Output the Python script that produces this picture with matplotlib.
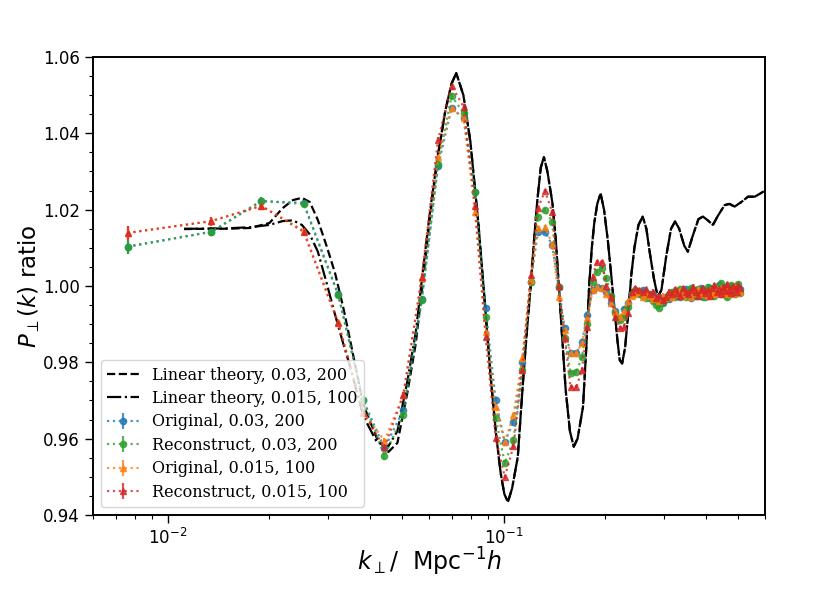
import matplotlib
matplotlib.use("Agg")
import matplotlib.pyplot as plt
from matplotlib.ticker import MultipleLocator, FormatStrFormatter

# ---- data -------------------------------------------------------------
k_data = [0.0076, 0.0135, 0.0190, 0.0254, 0.0322, 0.0382, 0.0442, 0.0503, 0.0571, 0.0638,
          0.0700, 0.0760, 0.0822, 0.0884, 0.0947, 0.1008, 0.1070, 0.1136, 0.1204, 0.1265,
          0.1328, 0.1395, 0.1458, 0.1520, 0.1582, 0.1647, 0.1710, 0.1773, 0.1840, 0.1896,
          0.1960, 0.2023, 0.2086, 0.2150, 0.2213, 0.2276, 0.2340, 0.2403, 0.2466, 0.2530,
          0.2593, 0.2656, 0.2720, 0.2783, 0.2846, 0.2910, 0.2973, 0.3036, 0.3100, 0.3163,
          0.3226, 0.3290, 0.3353, 0.3416, 0.3480, 0.3543, 0.3606, 0.3670, 0.3733, 0.3796,
          0.3860, 0.3923, 0.3986, 0.4050, 0.4113, 0.4176, 0.4240, 0.4303, 0.4366, 0.4430,
          0.4493, 0.4556, 0.4620, 0.4683, 0.4746, 0.4810, 0.4873, 0.4936, 0.5000, 0.5063]

orig_03_200 = [1.0103, 1.0142, 1.0222, 1.0218, 0.9978, 0.9701, 0.9575, 0.9675, 0.9965, 1.0314,
               1.0466, 1.0440, 1.0246, 0.9942, 0.9701, 0.9591, 0.9644, 0.9800, 1.0010, 1.0142,
               1.0142, 1.0107, 0.9997, 0.9890, 0.9824, 0.9824, 0.9853, 0.9924, 0.9990, 0.9997,
               0.9995, 0.9984, 0.9955, 0.9935, 0.9915, 0.9940, 0.9955, 0.9980, 0.9985, 0.9978,
               0.9990, 0.9975, 0.9968, 0.9980, 0.9962, 0.9970, 0.9955, 0.9972, 0.9965, 0.9980,
               0.9975, 0.9988, 0.9970, 0.9982, 0.9992, 0.9978, 0.9968, 0.9985, 0.9990, 0.9975,
               0.9995, 0.9982, 0.9972, 0.9988, 0.9995, 0.9980, 0.9992, 0.9985, 1.0002, 0.9978,
               0.9990, 0.9998, 0.9984, 0.9992, 0.9980, 0.9995, 0.9988, 1.0000, 0.9985, 0.9992]

recon_03_200 = [1.0103, 1.0142, 1.0223, 1.0215, 0.9976, 0.9700, 0.9555, 0.9662, 0.9963, 1.0320,
                1.0498, 1.0453, 1.0246, 0.9919, 0.9654, 0.9536, 0.9597, 0.9780, 1.0010, 1.0181,
                1.0199, 1.0168, 0.9997, 0.9864, 0.9772, 0.9775, 0.9814, 0.9900, 1.0010, 1.0037,
                1.0047, 1.0020, 0.9975, 0.9930, 0.9910, 0.9920, 0.9945, 0.9980, 0.9990, 0.9982,
                0.9975, 0.9968, 0.9978, 0.9960, 0.9950, 0.9942, 0.9958, 0.9965, 0.9978, 0.9985,
                0.9972, 0.9980, 0.9992, 0.9978, 0.9970, 0.9985, 0.9995, 0.9980, 0.9975, 0.9992,
                0.9985, 0.9970, 0.9988, 0.9998, 0.9980, 0.9990, 0.9975, 0.9995, 0.9985, 1.0008,
                0.9982, 0.9990, 0.9970, 0.9995, 1.0002, 0.9985, 0.9978, 0.9995, 1.0005, 0.9982]

orig_015_100 = [1.0139, 1.0170, 1.0210, 1.0145, 0.9905, 0.9670, 0.9595, 0.9714, 1.0020, 1.0338,
                1.0466, 1.0440, 1.0194, 0.9880, 0.9683, 0.9591, 0.9662, 0.9811, 1.0015, 1.0152,
                1.0155, 1.0110, 0.9971, 0.9885, 0.9824, 0.9824, 0.9850, 0.9915, 0.9990, 0.9997,
                0.9995, 0.9980, 0.9955, 0.9932, 0.9918, 0.9935, 0.9960, 0.9975, 0.9978, 0.9985,
                0.9972, 0.9980, 0.9975, 0.9965, 0.9970, 0.9960, 0.9975, 0.9968, 0.9982, 0.9972,
                0.9985, 0.9978, 0.9990, 0.9975, 0.9985, 0.9980, 0.9972, 0.9990, 0.9982, 0.9992,
                0.9978, 0.9988, 0.9980, 0.9975, 0.9990, 0.9985, 0.9978, 0.9992, 0.9982, 0.9995,
                0.9988, 0.9980, 0.9995, 0.9985, 0.9978, 0.9992, 0.9998, 0.9982, 0.9990, 0.9985]

recon_015_100 = [1.0139, 1.0170, 1.0210, 1.0142, 0.9903, 0.9667, 0.9577, 0.9714, 1.0024, 1.0383,
                 1.0524, 1.0470, 1.0210, 0.9866, 0.9602, 0.9500, 0.9580, 0.9780, 1.0029, 1.0204,
                 1.0249, 1.0194, 1.0000, 0.9864, 0.9735, 0.9735, 0.9780, 0.9893, 1.0024, 1.0063,
                 1.0063, 1.0000, 0.9970, 0.9920, 0.9890, 0.9892, 0.9930, 0.9985, 0.9995, 0.9990,
                 0.9985, 0.9992, 0.9978, 0.9985, 0.9968, 0.9975, 0.9962, 0.9970, 0.9985, 0.9978,
                 0.9992, 0.9982, 0.9975, 0.9995, 0.9985, 0.9978, 0.9990, 0.9998, 0.9985, 0.9975,
                 0.9990, 0.9995, 0.9982, 0.9990, 0.9975, 0.9995, 1.0002, 0.9985, 0.9992, 0.9980,
                 0.9998, 0.9988, 1.0005, 0.9990, 0.9982, 1.0000, 0.9992, 0.9985, 1.0002, 0.9995]

err = [0.0018, 0.0012, 0.0010, 0.0009, 0.0008, 0.0008, 0.0007, 0.0007, 0.0007, 0.0007,
       0.0007, 0.0007, 0.0007, 0.0007, 0.0007, 0.0006, 0.0006, 0.0006, 0.0006, 0.0006,
       0.0006, 0.0006, 0.0006, 0.0006, 0.0006, 0.0006, 0.0006, 0.0006, 0.0006, 0.0006,
       0.0006, 0.0006, 0.0006, 0.0006, 0.0006, 0.0006, 0.0006, 0.0006, 0.0006, 0.0006,
       0.0006, 0.0006, 0.0006, 0.0006, 0.0006, 0.0006, 0.0006, 0.0006, 0.0006, 0.0006,
       0.0006, 0.0006, 0.0006, 0.0006, 0.0006, 0.0006, 0.0006, 0.0006, 0.0006, 0.0006,
       0.0006, 0.0006, 0.0006, 0.0006, 0.0006, 0.0006, 0.0006, 0.0006, 0.0006, 0.0006,
       0.0006, 0.0006, 0.0006, 0.0006, 0.0006, 0.0006, 0.0006, 0.0006, 0.0006, 0.0006]

k_theory = [0.0112, 0.0130, 0.0150, 0.0176, 0.0201, 0.0220, 0.0236, 0.0251, 0.0265, 0.0280,
            0.0298, 0.0315, 0.0333, 0.0349, 0.0382, 0.0420, 0.0454, 0.0483, 0.0517, 0.0548,
            0.0577, 0.0604, 0.0635, 0.0671, 0.0700, 0.0723, 0.0759, 0.0796, 0.0842, 0.0884,
            0.0913, 0.0950, 0.0980, 0.1005, 0.1030, 0.1060, 0.1102, 0.1147, 0.1175, 0.1204,
            0.1232, 0.1260, 0.1290, 0.1318, 0.1350, 0.1397, 0.1430, 0.1460, 0.1495, 0.1530,
            0.1575, 0.1617, 0.1660, 0.1723, 0.1760, 0.1797, 0.1830, 0.1861, 0.1900, 0.1943,
            0.1990, 0.2042, 0.2090, 0.2134, 0.2180, 0.2216, 0.2253, 0.2300, 0.2350, 0.2400,
            0.2450, 0.2520, 0.2594, 0.2660, 0.2720, 0.2800, 0.2876, 0.2950, 0.3050, 0.3150,
            0.3239, 0.3330, 0.3450, 0.3535, 0.3650, 0.3800, 0.3919, 0.4050, 0.4197, 0.4350,
            0.4548, 0.4700, 0.4870, 0.5100, 0.5340, 0.5590, 0.5800, 0.6000]

theory_03_200 = [1.0149, 1.0150, 1.0150, 1.0152, 1.0165, 1.0204, 1.0225, 1.0231, 1.0220, 1.0173,
                 1.0102, 1.0034, 0.9945, 0.9860, 0.9690, 0.9600, 0.9565, 0.9589, 0.9720, 0.9850,
                 1.0024, 1.0180, 1.0330, 1.0460, 1.0530, 1.0558, 1.0500, 1.0380, 1.0160, 0.9930,
                 0.9772, 0.9610, 0.9510, 0.9455, 0.9434, 0.9470, 0.9552, 0.9772, 0.9890, 1.0000,
                 1.0120, 1.0225, 1.0310, 1.0338, 1.0300, 1.0218, 1.0120, 1.0000, 0.9860, 0.9728,
                 0.9620, 0.9579, 0.9600, 0.9683, 0.9830, 1.0000, 1.0100, 1.0165, 1.0215, 1.0243,
                 1.0200, 1.0120, 1.0030, 0.9945, 0.9860, 0.9806, 0.9797, 0.9840, 0.9930, 1.0030,
                 1.0100, 1.0160, 1.0182, 1.0150, 1.0090, 1.0020, 0.9971, 0.9990, 1.0080, 1.0150,
                 1.0169, 1.0150, 1.0105, 1.0090, 1.0130, 1.0175, 1.0182, 1.0172, 1.0160, 1.0185,
                 1.0212, 1.0215, 1.0208, 1.0220, 1.0234, 1.0234, 1.0242, 1.0250]

theory_015_100 = [1.0150, 1.0150, 1.0151, 1.0154, 1.0160, 1.0170, 1.0172, 1.0160, 1.0135, 1.0090,
                  1.0005, 0.9925, 0.9850, 0.9790, 0.9660, 0.9590, 0.9580, 0.9620, 0.9750, 0.9880,
                  1.0050, 1.0195, 1.0335, 1.0460, 1.0530, 1.0558, 1.0500, 1.0380, 1.0160, 0.9930,
                  0.9772, 0.9610, 0.9510, 0.9455, 0.9434, 0.9470, 0.9552, 0.9772, 0.9890, 1.0000,
                  1.0120, 1.0225, 1.0310, 1.0338, 1.0300, 1.0218, 1.0120, 1.0000, 0.9860, 0.9728,
                  0.9620, 0.9579, 0.9600, 0.9683, 0.9830, 1.0000, 1.0100, 1.0165, 1.0215, 1.0243,
                  1.0200, 1.0120, 1.0030, 0.9945, 0.9860, 0.9806, 0.9797, 0.9840, 0.9930, 1.0030,
                  1.0100, 1.0160, 1.0182, 1.0150, 1.0090, 1.0020, 0.9971, 0.9990, 1.0080, 1.0150,
                  1.0169, 1.0150, 1.0105, 1.0090, 1.0130, 1.0175, 1.0182, 1.0172, 1.0160, 1.0185,
                  1.0212, 1.0215, 1.0208, 1.0220, 1.0234, 1.0234, 1.0242, 1.0250]

# ---- figure -----------------------------------------------------------
fig = plt.figure(figsize=(8.14, 5.91), dpi=100)
ax = fig.add_axes([0.1143, 0.1286, 0.8256, 0.775])

series = [
    (orig_03_200, 'C0', 'o', 'Original, 0.03, 200'),
    (recon_03_200, 'C2', 'o', 'Reconstruct, 0.03, 200'),
    (orig_015_100, 'C1', '^', 'Original, 0.015, 100'),
    (recon_015_100, 'C3', '^', 'Reconstruct, 0.015, 100'),
]
for y, c, m, lab in series:
    ax.errorbar(k_data, y, yerr=err, color=c, marker=m, ms=4.5, ls=':', lw=1.6,
                alpha=0.8, label=lab)

ax.plot(k_theory, theory_03_200, color='black', ls='--', lw=1.6,
        label='Linear theory, 0.03, 200')
ax.plot(k_theory, theory_015_100, color='black', ls='-.', lw=1.6,
        label='Linear theory, 0.015, 100')

ax.set_xscale('log')
ax.set_xlim(0.006, 0.6)
ax.set_ylim(0.94, 1.06)
ax.yaxis.set_major_locator(MultipleLocator(0.02))
ax.yaxis.set_minor_locator(MultipleLocator(0.005))
ax.yaxis.set_major_formatter(FormatStrFormatter('%.2f'))
ax.tick_params(which='major', length=6, width=1, labelsize=12)
ax.tick_params(which='minor', length=3, width=0.8)
for s in ax.spines.values():
    s.set_linewidth(1.4)

ax.set_xlabel(r'$k_{\perp}/\ \ \mathrm{Mpc}^{-1}h$', fontsize=17, labelpad=-2)
ax.set_ylabel(r'$P_{\perp}(k)$ ratio', fontsize=16.5)
ax.yaxis.set_label_coords(-0.076, 0.5)

handles, labels = ax.get_legend_handles_labels()
ax.legend(handles, labels, loc='lower left', prop={'family': 'DejaVu Serif', 'size': 11.5},
          labelspacing=0.40)

fig.savefig('out.png', dpi=100)
